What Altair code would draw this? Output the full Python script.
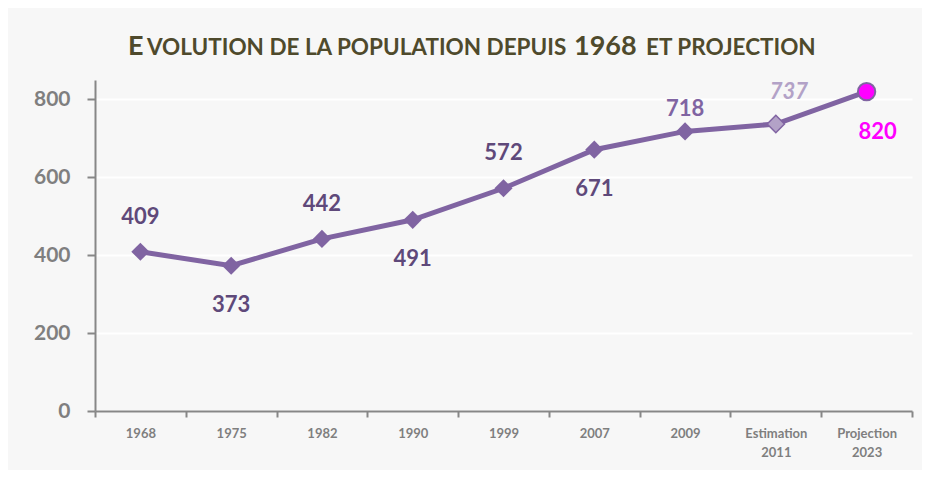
import altair as alt
import pandas as pd

categories = ["1968", "1975", "1982", "1990", "1999", "2007", "2009", "Estimation 2011", "Projection 2023"]
population = [409, 373, 442, 491, 572, 671, 718, 737, 820]
label_side = ["above", "below", "above", "below", "above", "below", "near", "above", "below"]
point_kind = ["census", "census", "census", "census", "census", "census", "census", "estimate", "projection"]
label_kind = ["dark", "dark", "dark", "dark", "dark", "dark", "light", "estimate", "projection"]

df = pd.DataFrame({
    "cat": categories,
    "pop": population,
    "side": label_side,
    "kind": point_kind,
    "lkind": label_kind,
})

FONT = "Lato"
LINE = "#8064a2"

x = alt.X("cat:N", sort=categories, title=None,
          scale=alt.Scale(paddingInner=0, paddingOuter=0),
          axis=alt.Axis(labelAngle=0, labelFont=FONT, labelFontSize=13, labelFontWeight="bold",
                        labelColor="#7f7f7f", labelPadding=10, labelLineHeight=19,
                        labelExpr="split(datum.label, ' ')",
                        tickBand="extent", tickSize=6, tickColor="#878787", tickWidth=2,
                        domainColor="#878787", domainWidth=2, grid=False, labelBaseline="top"))
y = alt.Y("pop:Q", title=None,
          scale=alt.Scale(domain=[0, 850], nice=False),
          axis=alt.Axis(values=[0, 200, 400, 600, 800], labelFont=FONT, labelFontSize=21,
                        labelFontWeight="bold", labelColor="#7f7f7f", labelPadding=17,
                        tickSize=8, tickColor="#878787", tickWidth=2,
                        domainColor="#878787", domainWidth=2,
                        grid=True, gridColor="#ffffff", gridWidth=2))

base = alt.Chart(df)

line = base.mark_line(color=LINE, strokeWidth=5).encode(x=x, y=y)

diam = base.transform_filter("datum.kind == 'census'").mark_point(
    shape="diamond", filled=True, size=330, color=LINE, opacity=1).encode(x=x, y=y)
est = base.transform_filter("datum.kind == 'estimate'").mark_point(
    shape="diamond", filled=True, size=300, fill="#b3a2c7", stroke=LINE, strokeWidth=1.5, opacity=1).encode(x=x, y=y)
proj = base.transform_filter("datum.kind == 'projection'").mark_point(
    shape="circle", filled=True, size=300, fill="#ff00ff", stroke=LINE, strokeWidth=2, opacity=1).encode(x=x, y=y)

color_scale = alt.Scale(domain=["dark", "light", "estimate", "projection"],
                        range=["#5f497a", "#8064a2", "#b3a2c7", "#ff00ff"])


def labels(filter_expr, dy, dx=0, **kw):
    return base.transform_filter(filter_expr).mark_text(
        font=FONT, fontSize=22, fontWeight="bold", dy=dy, dx=dx, baseline="middle", **kw).encode(
        x=x, y=y, text="pop:Q",
        color=alt.Color("lkind:N", scale=color_scale, legend=None))


lab_above = labels("datum.side == 'above' && datum.lkind != 'estimate'", -35)
lab_near = labels("datum.side == 'near'", -22)
lab_est = labels("datum.lkind == 'estimate'", -32, dx=13, fontStyle="italic")
lab_below = labels("datum.side == 'below' && datum.lkind != 'projection'", 39)
lab_proj = labels("datum.lkind == 'projection'", 40, dx=11)

title_color = "#4f4a2c"
title_parts = [
    ("E", 33, 27),
    ("VOLUTION DE LA POPULATION DEPUIS", 52, 22.5),
    ("1968", 479, 27),
    ("ET PROJECTION", 551, 22.5),
]
title_layers = [
    alt.Chart(pd.DataFrame({"t": [t]})).mark_text(
        font=FONT, fontSize=fs, fontWeight="bold", color=title_color,
        align="left", baseline="alphabetic").encode(
        text="t:N", x=alt.value(px), y=alt.value(-25))
    for t, px, fs in title_parts
]

chart = alt.layer(line, diam, est, proj, lab_above, lab_near, lab_est, lab_below, lab_proj,
                  *title_layers).properties(
    width=817, height=331,
    padding={"left": 87, "top": 72, "right": 10, "bottom": 59},
    autosize=alt.AutoSizeParams(type="none"),
    background="#f7f7f7",
).configure_view(stroke=None)

chart.save("out.html", embed_options={"renderer": "svg", "actions": False})
